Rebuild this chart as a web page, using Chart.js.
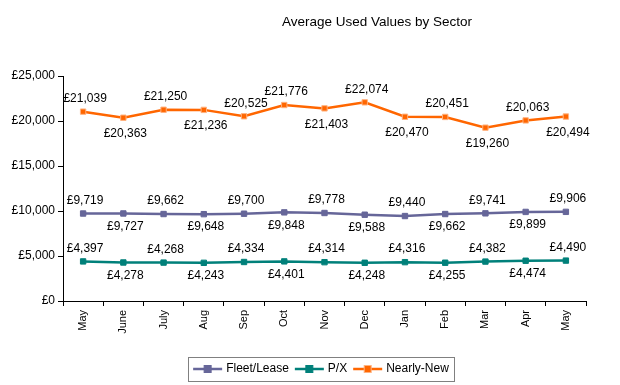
<!DOCTYPE html>
<html>
<head>
<meta charset="utf-8">
<script src="https://cdn.jsdelivr.net/npm/chart.js@4.4.0/dist/chart.umd.min.js"></script>
<style>
  html, body { margin: 0; padding: 0; background: #fff; }
  #wrap { width: 620px; height: 385px; position: relative; }
</style>
</head>
<body>
<div id="wrap"><canvas id="usedValuesChart" width="620" height="385"></canvas></div>
<script>
const months = ['May', 'June', 'July', 'Aug', 'Sep', 'Oct', 'Nov', 'Dec', 'Jan', 'Feb', 'Mar', 'Apr', 'May'];
const fleetLease = [9719, 9727, 9662, 9648, 9700, 9848, 9778, 9588, 9440, 9662, 9741, 9899, 9906];
const partEx = [4397, 4278, 4268, 4243, 4334, 4401, 4314, 4248, 4316, 4255, 4382, 4474, 4490];
const nearlyNew = [21039, 20363, 21250, 21236, 20525, 21776, 21403, 22074, 20470, 20451, 19260, 20063, 20494];
const yTicks = [0, 5000, 10000, 15000, 20000, 25000];

const FONT = '"Liberation Sans", Arial, sans-serif';
const gbp = (v) => '£' + v.toLocaleString('en-GB');

// which side of the point each value label sits on (1 = above, -1 = below)
const alternate = months.map((m, i) => (i % 2 === 0 ? 1 : -1));
const nearlyNewSides = [1, -1, 1, -1, 1, 1, -1, 1, -1, 1, -1, 1, -1];

const valueLabels = {
  id: 'valueLabels',
  afterDatasetsDraw(chart) {
    const ctx = chart.ctx;
    ctx.save();
    ctx.font = '12px ' + FONT;
    ctx.fillStyle = '#000';
    ctx.textAlign = 'center';
    ctx.textBaseline = 'middle';
    chart.data.datasets.forEach((ds, di) => {
      const meta = chart.getDatasetMeta(di);
      meta.data.forEach((pt, i) => {
        const side = ds.labelSides[i];
        const off = side > 0 ? 13 : ds.belowGap;
        ctx.fillText(gbp(ds.data[i]), pt.x + 2, pt.y - side * off);
      });
    });
    ctx.restore();
  }
};

const titleAndLegend = {
  id: 'titleAndLegend',
  afterDraw(chart) {
    const ctx = chart.ctx;
    ctx.save();
    ctx.fillStyle = '#000';
    ctx.font = '13.5px ' + FONT;
    ctx.textAlign = 'center';
    ctx.textBaseline = 'middle';
    ctx.fillText('Average Used Values by Sector', 377, 22);

    // legend
    ctx.font = '12px ' + FONT;
    ctx.textAlign = 'left';
    const lineLen = 29, gapText = 4, gapItem = 6;
    const items = chart.data.datasets.map(ds => ({ ds, w: ctx.measureText(ds.label).width }));
    let total = 0;
    items.forEach((it, i) => { total += lineLen + gapText + it.w + (i < items.length - 1 ? gapItem : 0); });
    const cx = 321, cy = 369;
    let x = cx - total / 2;
    ctx.strokeStyle = '#808080';
    ctx.lineWidth = 1;
    ctx.strokeRect(Math.round(cx - 133) + 0.5, 357.5, 266, 24);
    items.forEach(it => {
      const ds = it.ds;
      ctx.strokeStyle = ds.borderColor;
      ctx.lineWidth = 2.5;
      ctx.beginPath();
      ctx.moveTo(x, cy);
      ctx.lineTo(x + lineLen, cy);
      ctx.stroke();
      ctx.fillStyle = ds.pointBackgroundColor;
      ctx.fillRect(x + lineLen / 2 - 3.5, cy - 3.5, 7, 7);
      ctx.strokeStyle = ds.pointBorderColor;
      ctx.lineWidth = 1;
      ctx.strokeRect(x + lineLen / 2 - 3.5, cy - 3.5, 7, 7);
      ctx.fillStyle = '#000';
      ctx.fillText(ds.label, x + lineLen + gapText, cy);
      x += lineLen + gapText + it.w + gapItem;
    });
    ctx.restore();
  }
};

function series(label, data, color, markerEdge, sides, belowGap) {
  return {
    label: label,
    data: data,
    borderColor: color,
    backgroundColor: color,
    borderWidth: 2.5,
    tension: 0,
    pointStyle: 'rect',
    pointRadius: 3.8,
    pointHoverRadius: 3.8,
    pointBackgroundColor: color,
    pointBorderColor: markerEdge,
    pointBorderWidth: 1,
    labelSides: sides,
    belowGap: belowGap
  };
}

const ctx = document.getElementById('usedValuesChart').getContext('2d');
new Chart(ctx, {
  type: 'line',
  data: {
    labels: months,
    datasets: [
      series('Fleet/Lease', fleetLease, '#666699', '#666699', alternate, 13),
      series('P/X', partEx, '#00807a', '#00807a', alternate, 13),
      series('Nearly-New', nearlyNew, '#ff6600', '#ffb27f', nearlyNewSides, 16)
    ]
  },
  options: {
    responsive: false,
    animation: false,
    layout: { padding: { top: 76, right: 34, left: 0, bottom: 0 } },
    plugins: {
      legend: { display: false },
      title: { display: false },
      tooltip: { enabled: false }
    },
    scales: {
      x: {
        offset: true,
        afterFit: (scale) => { scale.height = 84; },
        grid: { offset: true, drawOnChartArea: false, drawTicks: true, tickLength: 5, color: '#000' },
        border: { color: '#000', width: 1 },
        ticks: {
          maxRotation: 90, minRotation: 90, autoSkip: false, padding: 4,
          color: '#000', font: { family: FONT, size: 11 }
        }
      },
      y: {
        min: 0,
        max: 25000,
        afterFit: (scale) => { scale.width = 63; },
        afterBuildTicks: (scale) => { scale.ticks = yTicks.map(v => ({ value: v })); },
        grid: { drawOnChartArea: false, drawTicks: true, tickLength: 5, color: '#000' },
        border: { color: '#000', width: 1 },
        ticks: {
          padding: 3, color: '#000', font: { family: FONT, size: 12 },
          callback: (v) => gbp(v)
        }
      }
    }
  },
  plugins: [valueLabels, titleAndLegend]
});
</script>
</body>
</html>
